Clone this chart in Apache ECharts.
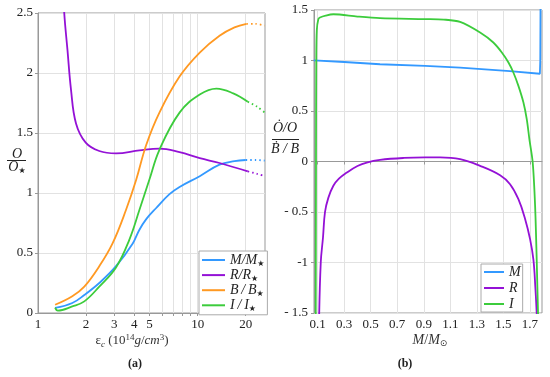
<!DOCTYPE html>
<html><head><meta charset="utf-8">
<script src="https://cdn.jsdelivr.net/npm/echarts@6/dist/echarts.min.js"></script>
<style>html,body{margin:0;padding:0;background:#fff}#c{width:550px;height:377px}</style>
</head><body><div id="c"></div>
<script>
// ---------- Panel (a): ratios vs central energy density ----------
const mEps = [1.28, 1.64, 1.95, 2.42, 3.08, 3.92, 4.3, 4.75, 5.5, 6.66, 7.7, 10.3, 13.7, 17, 20];
const mVal = [0.042, 0.083, 0.15, 0.25, 0.39, 0.58, 0.69, 0.78, 0.875, 0.99, 1.05, 1.14, 1.236, 1.265, 1.275];
const mExtEps = [20, 23, 26.3];
const mExtVal = [1.275, 1.275, 1.27];

const rEps = [1.3, 1.38, 1.46, 1.53, 1.61, 1.73, 1.99, 2.42, 3.08, 4.32, 5.76, 7.7, 10.3, 13.7, 20.6];
const rVal = [4.2, 3.1, 2.5, 2.19, 1.86, 1.58, 1.42, 1.35, 1.33, 1.355, 1.37, 1.34, 1.29, 1.25, 1.18];
const rExtEps = [20.6, 23.5, 26.3];
const rExtVal = [1.18, 1.16, 1.14];

const bEps = [1.28, 1.64, 1.95, 2.42, 2.93, 3.56, 4.12, 4.76, 5.76, 7.7, 10.3, 13.7, 17, 20.2];
const bVal = [0.069, 0.14, 0.22, 0.39, 0.58, 0.86, 1.11, 1.40, 1.67, 1.97, 2.17, 2.31, 2.38, 2.41];
const bExtEps = [20.2, 23, 26.3];
const bExtVal = [2.41, 2.41, 2.395];

const iEps = [1.28, 1.33, 1.64, 1.95, 2.42, 3.08, 3.73, 4.32, 4.98, 5.76, 7.7, 10.3, 13.1, 16.7, 20.6];
const iVal = [0.045, 0.02, 0.055, 0.097, 0.22, 0.38, 0.61, 0.86, 1.11, 1.36, 1.67, 1.82, 1.87, 1.83, 1.76];
const iExtEps = [20.6, 23.5, 26.3];
const iExtVal = [1.76, 1.72, 1.67];

const leftXLabels = [1, 2, 3, 4, 5, 10, 20];
const leftXGrid = [2, 3, 4, 5, 6, 7, 8, 9, 10, 20];

// ---------- Panel (b): derivative ratios vs mass ----------
const massM = [0.07, 0.3, 0.57, 0.91, 1.174, 1.55, 1.776, 1.779, 1.78, 1.781];
const derM  = [1.001, 0.985, 0.963, 0.946, 0.93, 0.895, 0.869, 1.0, 1.3, 1.6];

const massR = [0.11, 0.123, 0.14, 0.155, 0.18, 0.218, 0.26, 0.319, 0.4, 0.47, 0.57, 0.75, 0.91, 1.023, 1.174, 1.325, 1.476, 1.551, 1.614, 1.665, 1.702, 1.727, 1.742, 1.752, 1.755];
const derR  = [-1.6, -1.0, -0.75, -0.5, -0.36, -0.24, -0.17, -0.11, -0.045, -0.01, 0.016, 0.035, 0.04, 0.04, 0.023, -0.043, -0.136, -0.225, -0.373, -0.571, -0.769, -0.97, -1.25, -1.5, -1.6];

const massI = [0.085, 0.087, 0.089, 0.093, 0.105, 0.117, 0.16, 0.218, 0.4, 0.57, 0.91, 1.05, 1.174, 1.325, 1.425, 1.489, 1.539, 1.576, 1.614, 1.652, 1.677, 1.697, 1.722, 1.74, 1.752, 1.762, 1.765];
const derI  = [-1.6, 0.0, 1.0, 1.3, 1.41, 1.426, 1.445, 1.458, 1.435, 1.419, 1.41, 1.405, 1.382, 1.277, 1.178, 1.079, 0.98, 0.881, 0.749, 0.584, 0.419, 0.22, -0.01, -0.44, -0.97, -1.5, -1.6];

const rightXLabels = [0.1, 0.3, 0.5, 0.7, 0.9, 1.1, 1.3, 1.5, 1.7];

const C = { M: '#3399ff', R: '#9411d6', B: '#ff9922', I: '#3ccc3c' };
const SERIF = "'Liberation Serif', 'Times New Roman', serif";

const zip = (xs, ys) => xs.map((x, k) => [x, ys[k]]);

const chart = echarts.init(document.getElementById('c'), null, { renderer: 'canvas' });

function solid(name, color, xs, ys, xi, yi, smooth) {
  return { name, type: 'line', xAxisIndex: xi, yAxisIndex: yi, data: zip(xs, ys),
    showSymbol: false, symbol: 'none', smooth: smooth, clip: true,
    lineStyle: { color, width: 1.8 }, itemStyle: { color }, emphasis: { disabled: true } };
}
function dotted(name, color, xs, ys) {
  return { name, type: 'line', xAxisIndex: 0, yAxisIndex: 0, data: zip(xs, ys),
    showSymbol: false, symbol: 'none', smooth: 0.3, clip: true,
    lineStyle: { color, width: 1.8, type: [1.5, 3] }, itemStyle: { color }, emphasis: { disabled: true } };
}

const axisLabelStyle = { fontFamily: SERIF, fontSize: 13, color: '#222' };
const splitLineStyle = { show: true, lineStyle: { color: '#e2e2e2', width: 1 } };
const frameLine = { show: true, lineStyle: { color: '#999', width: 1 } };

const legendRichL = {
  i: { fontFamily: SERIF, fontStyle: 'italic', fontSize: 14, color: '#222', lineHeight: 15 },
  n: { fontFamily: SERIF, fontStyle: 'italic', fontSize: 14, color: '#222', lineHeight: 15 },
  s: { fontFamily: 'DejaVu Sans', fontSize: 8, color: '#222', verticalAlign: 'bottom', lineHeight: 10 }
};
const legendRichR = {
  i: { fontFamily: SERIF, fontStyle: 'italic', fontSize: 14, color: '#222', lineHeight: 15 }
};
const legendSep = { M: '/', R: '/', B: '\u2009/\u2009', I: '\u2009/\u2009' };

const option = {
  backgroundColor: '#fff',
  animation: false,
  grid: [
    { left: 38, top: 13, width: 227, height: 300, show: true, borderColor: '#999', borderWidth: 1, containLabel: false },
    { left: 314, top: 10, width: 228, height: 303, show: true, borderColor: '#999', borderWidth: 1, containLabel: false }
  ],
  xAxis: [
    { type: 'log', logBase: 10, gridIndex: 0, min: 1, max: 26.4,
      axisLine: frameLine, axisTick: { show: true, length: 3, customValues: leftXGrid, lineStyle: { color: '#999' } },
      axisLabel: { ...axisLabelStyle, margin: 5, customValues: leftXLabels, formatter: v => String(Math.round(v)) },
      splitLine: splitLineStyle, minorTick: { show: false }, minorSplitLine: { show: false } },
    { type: 'value', gridIndex: 1, min: 0.072, max: 1.792,
      axisLine: frameLine, axisTick: { show: true, length: 3, customValues: rightXLabels, lineStyle: { color: '#999' } },
      axisLabel: { ...axisLabelStyle, margin: 5, customValues: rightXLabels, formatter: v => v.toFixed(1) },
      splitLine: splitLineStyle }
  ],
  yAxis: [
    { type: 'value', gridIndex: 0, min: 0, max: 2.5, interval: 0.5,
      axisLine: frameLine, axisTick: { show: true, length: 3, lineStyle: { color: '#999' } },
      axisLabel: { ...axisLabelStyle, margin: 5, formatter: v => String(v) },
      splitLine: splitLineStyle },
    { type: 'value', gridIndex: 1, min: -1.5, max: 1.5, interval: 0.5,
      axisLine: frameLine, axisTick: { show: true, length: 3, lineStyle: { color: '#999' } },
      axisLabel: { ...axisLabelStyle, margin: 6, formatter: v => v === -1 ? '-1' : (v < 0 ? '- ' + String(-v) : String(v)) },
      splitLine: splitLineStyle }
  ],
  legend: [
    { orient: 'vertical', left: 199, top: 251, padding: [2, 3, 2, 3], itemGap: 0.6,
      backgroundColor: '#fff', borderColor: '#aaa', borderWidth: 1, borderRadius: 0,
      itemWidth: 23, itemHeight: 2, icon: 'rect', selectedMode: false,
      data: ['M/M★', 'R/R★', 'B/B★', 'I/I★'],
      formatter: n => { const L = n[0]; return '{i|' + L + '}{n|' + legendSep[L] + '}{i|' + L + '}{s|★}'; },
      textStyle: { rich: legendRichL, padding: [0, 0, 0, 0] } },
    { orient: 'vertical', left: 481, top: 264, padding: [1, 2, 1, 3], itemGap: 2,
      backgroundColor: '#fff', borderColor: '#aaa', borderWidth: 1, borderRadius: 0,
      itemWidth: 20, itemHeight: 2, icon: 'rect', selectedMode: false,
      data: ['M', 'R', 'I'],
      formatter: n => '{i|' + n + '}',
      textStyle: { rich: legendRichR } }
  ],
  series: [
    solid('M/M★', C.M, mEps, mVal, 0, 0, 0.4),
    solid('R/R★', C.R, rEps, rVal, 0, 0, 0.4),
    solid('B/B★', C.B, bEps, bVal, 0, 0, 0.4),
    solid('I/I★', C.I, iEps, iVal, 0, 0, 0.4),
    dotted('M/M★', C.M, mExtEps, mExtVal),
    dotted('R/R★', C.R, rExtEps, rExtVal),
    dotted('B/B★', C.B, bExtEps, bExtVal),
    dotted('I/I★', C.I, iExtEps, iExtVal),
    solid('M', C.M, massM, derM, 1, 1, false),
    solid('R', C.R, massR, derR, 1, 1, 0.4),
    solid('I', C.I, massI, derI, 1, 1, 0.3)
  ],
  graphic: [
    // left y-axis fraction
    { type: 'text', x: 17, y: 154, style: { text: 'O', fontFamily: SERIF, fontStyle: 'italic', fontSize: 14, fill: '#222', align: 'center', verticalAlign: 'middle' } },
    { type: 'line', shape: { x1: 7, y1: 160.5, x2: 26, y2: 160.5 }, style: { stroke: '#222', lineWidth: 1 } },
    { type: 'text', x: 17, y: 167, style: { text: '{i|O}{s|★}', align: 'center', verticalAlign: 'middle',
        rich: { i: { fontFamily: SERIF, fontStyle: 'italic', fontSize: 14, fill: '#222', lineHeight: 15 },
                s: { fontFamily: 'DejaVu Sans', fontSize: 8, fill: '#222', verticalAlign: 'bottom', lineHeight: 10 } } } },
    // right y-axis fraction
    { type: 'text', x: 285, y: 128, style: { text: 'Ȯ/O', fontFamily: SERIF, fontStyle: 'italic', fontSize: 14, fill: '#222', align: 'center', verticalAlign: 'middle' } },
    { type: 'line', shape: { x1: 272, y1: 139.5, x2: 299, y2: 139.5 }, style: { stroke: '#222', lineWidth: 1 } },
    { type: 'text', x: 285, y: 149, style: { text: 'Ḃ / B', fontFamily: SERIF, fontStyle: 'italic', fontSize: 14, fill: '#222', align: 'center', verticalAlign: 'middle' } },
    // x-axis names
    { type: 'text', x: 132, y: 341, style: { text: '{n|ε}{sb|c}{n| (10}{sp|14}{i|g}{n|/}{i|cm}{sp|3}{n|)}', align: 'center', verticalAlign: 'middle',
        rich: { n: { fontFamily: SERIF, fontSize: 13, fill: '#333', lineHeight: 16 },
                i: { fontFamily: SERIF, fontStyle: 'italic', fontSize: 13, fill: '#333', lineHeight: 16 },
                sp: { fontFamily: SERIF, fontSize: 9, fill: '#333', verticalAlign: 'top', lineHeight: 10 },
                sb: { fontFamily: SERIF, fontStyle: 'italic', fontSize: 9, fill: '#333', verticalAlign: 'bottom', lineHeight: 10 } } } },
    { type: 'text', x: 430, y: 340, style: { text: '{i|M}{n|/}{i|M}{sb|⊙}', align: 'center', verticalAlign: 'middle',
        rich: { n: { fontFamily: SERIF, fontSize: 14, fill: '#333', lineHeight: 16 },
                i: { fontFamily: SERIF, fontStyle: 'italic', fontSize: 14, fill: '#333', lineHeight: 16 },
                sb: { fontFamily: 'DejaVu Sans', fontSize: 9, fill: '#333', verticalAlign: 'bottom', lineHeight: 10 } } } },
    // panel captions
    { type: 'text', x: 135, y: 364, style: { text: '(a)', fontFamily: SERIF, fontWeight: 'bold', fontSize: 12, fill: '#222', align: 'center', verticalAlign: 'middle' } },
    { type: 'text', x: 405, y: 364, style: { text: '(b)', fontFamily: SERIF, fontWeight: 'bold', fontSize: 12, fill: '#222', align: 'center', verticalAlign: 'middle' } }
  ]
};
chart.setOption(option);
</script>
</body></html>
